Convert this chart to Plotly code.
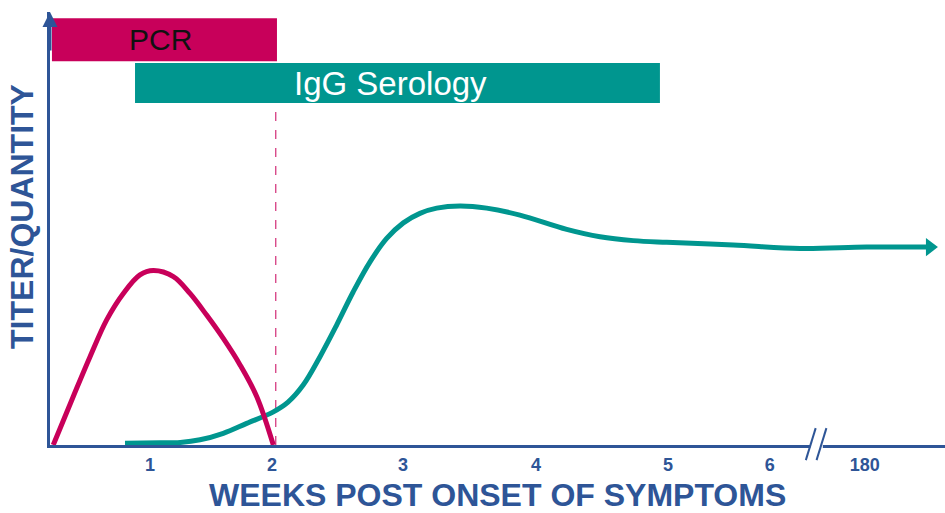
import plotly.graph_objects as go

# ---- data (x in "week" units of the drawn axis, y in relative titer 0-100) ----
pcr_x = [0.288, 0.442, 0.571, 0.699, 0.827, 0.955, 1.058, 1.212, 1.340,
         1.468, 1.596, 1.725, 1.853, 1.981]
pcr_y = [0.0, 11.2, 20.4, 28.9, 35.0, 39.3, 40.3, 38.9, 35.0,
         30.0, 24.6, 18.5, 11.2, 0.0]

igg_x = [0.840, 1.109, 1.265, 1.417, 1.596, 1.776, 1.978, 2.094, 2.212, 2.340, 2.468,
         2.596, 2.725, 2.853, 2.981, 3.109, 3.238, 3.417, 3.622, 3.878, 4.238,
         4.494, 4.750, 5.007, 5.519, 6.032, 6.545, 7.032]
igg_y = [0.4, 0.5, 0.6, 1.2, 2.7, 5.0, 7.6, 9.9, 13.9, 20.4, 27.7,
         35.4, 42.3, 47.7, 51.3, 53.5, 54.7, 55.2, 54.7, 53.1, 49.8,
         48.1, 47.2, 46.8, 46.2, 45.4, 45.7, 45.7]

window_labels = ["PCR", "IgG Serology"]
window_start = [0.278, 0.917]
window_end = [2.009, 4.955]
window_level = [93.6, 83.6]

cutoff_week = 2.0
cutoff_top = 79.0

tick_pos = [1.032, 1.971, 2.978, 4.002, 5.017, 5.80, 6.53]
tick_text = ["1", "2", "3", "4", "5", "6", "180"]
break_pos = 6.16

MAGENTA = "#C8005A"
TEAL = "#00968F"
NAVY = "#2E5597"
X_RANGE = [0.263, 7.148]
Y_RANGE = [0, 100]


def xpaper(v):
    return (v - X_RANGE[0]) / (X_RANGE[1] - X_RANGE[0])


fig = go.Figure()

# time windows as horizontal bars
fig.add_trace(go.Bar(
    orientation="h", y=[window_level[0]], base=[window_start[0]],
    x=[window_end[0] - window_start[0]], width=[9.9],
    marker=dict(color=MAGENTA, line=dict(width=0)), hoverinfo="skip"))
fig.add_trace(go.Bar(
    orientation="h", y=[window_level[1]], base=[window_start[1]],
    x=[window_end[1] - window_start[1]], width=[9.2],
    marker=dict(color=TEAL, line=dict(width=0)), hoverinfo="skip"))

# dashed cut-off line
fig.add_trace(go.Scatter(
    x=[cutoff_week, cutoff_week], y=[0, cutoff_top], mode="lines",
    line=dict(color=MAGENTA, width=1, dash="dash"), hoverinfo="skip"))

# curves
fig.add_trace(go.Scatter(
    x=igg_x, y=igg_y, mode="lines", line=dict(color=TEAL, width=5, shape="spline"),
    hoverinfo="skip"))
fig.add_trace(go.Scatter(
    x=[igg_x[-1]], y=[igg_y[-1]], mode="markers",
    marker=dict(symbol="triangle-right", color=TEAL, size=16, line=dict(width=0)),
    hoverinfo="skip"))
fig.add_trace(go.Scatter(
    x=pcr_x, y=pcr_y, mode="lines", line=dict(color=MAGENTA, width=5, shape="spline"),
    hoverinfo="skip"))

# bar labels
fig.add_annotation(x=(window_start[0] + window_end[0]) / 2, y=window_level[0],
                   text=window_labels[0], showarrow=False, xshift=-4,
                   font=dict(family="Liberation Sans", size=30, color="#111111"))
fig.add_annotation(x=(window_start[1] + window_end[1]) / 2, y=window_level[1],
                   text=window_labels[1], showarrow=False, xshift=-7,
                   font=dict(family="Liberation Sans", size=33, color="white"))

# axis titles
fig.add_annotation(xref="paper", yref="paper", x=0.5, y=-0.115, xanchor="center", yanchor="middle",
                   text="<b>WEEKS POST ONSET OF SYMPTOMS</b>", showarrow=False,
                   font=dict(family="Liberation Sans", size=32, color=NAVY))
fig.add_annotation(xref="paper", yref="paper", x=-0.0313, y=0.529, xanchor="center", yanchor="middle",
                   text="<b>TITER/QUANTITY</b>", textangle=-90, showarrow=False,
                   font=dict(family="Liberation Sans", size=32, color=NAVY))

# y-axis arrow head
fig.add_annotation(xref="paper", yref="paper", x=0, y=1.0, ax=0, ay=40,
                   showarrow=True, arrowhead=2, arrowsize=1, arrowwidth=3,
                   arrowcolor=NAVY, text="")

# axis break (gap in the axis line + two slashes)
bp = xpaper(break_pos)
fig.add_shape(type="line", xref="paper", yref="paper", x0=bp - 0.007, x1=bp + 0.007,
              y0=0, y1=0, line=dict(color="white", width=8), layer="above")
for dx in (-0.0065, 0.0055):
    fig.add_shape(type="line", xref="paper", yref="paper",
                  x0=bp + dx - 0.0055, x1=bp + dx + 0.0055,
                  y0=-0.035, y1=0.039, line=dict(color=NAVY, width=2), layer="above")

fig.update_layout(
    width=945, height=513, showlegend=False, barmode="overlay",
    plot_bgcolor="white", paper_bgcolor="white",
    margin=dict(l=50, r=0, t=12, b=68, autoexpand=False),
    xaxis=dict(range=X_RANGE, showgrid=False, zeroline=False, showline=True,
               linecolor=NAVY, linewidth=3, tickvals=tick_pos, ticktext=tick_text,
               ticks="outside", ticklen=1, tickcolor="rgba(0,0,0,0)",
               tickfont=dict(family="Liberation Sans", size=18, color=NAVY, weight="bold")),
    yaxis=dict(range=Y_RANGE, showgrid=False, zeroline=False, showline=True,
               linecolor=NAVY, linewidth=3, showticklabels=False, ticks=""),
)

fig.write_html("out.html", config={"displayModeBar": False},
               post_script="document.body.style.margin='0';document.body.style.overflow='hidden';")
